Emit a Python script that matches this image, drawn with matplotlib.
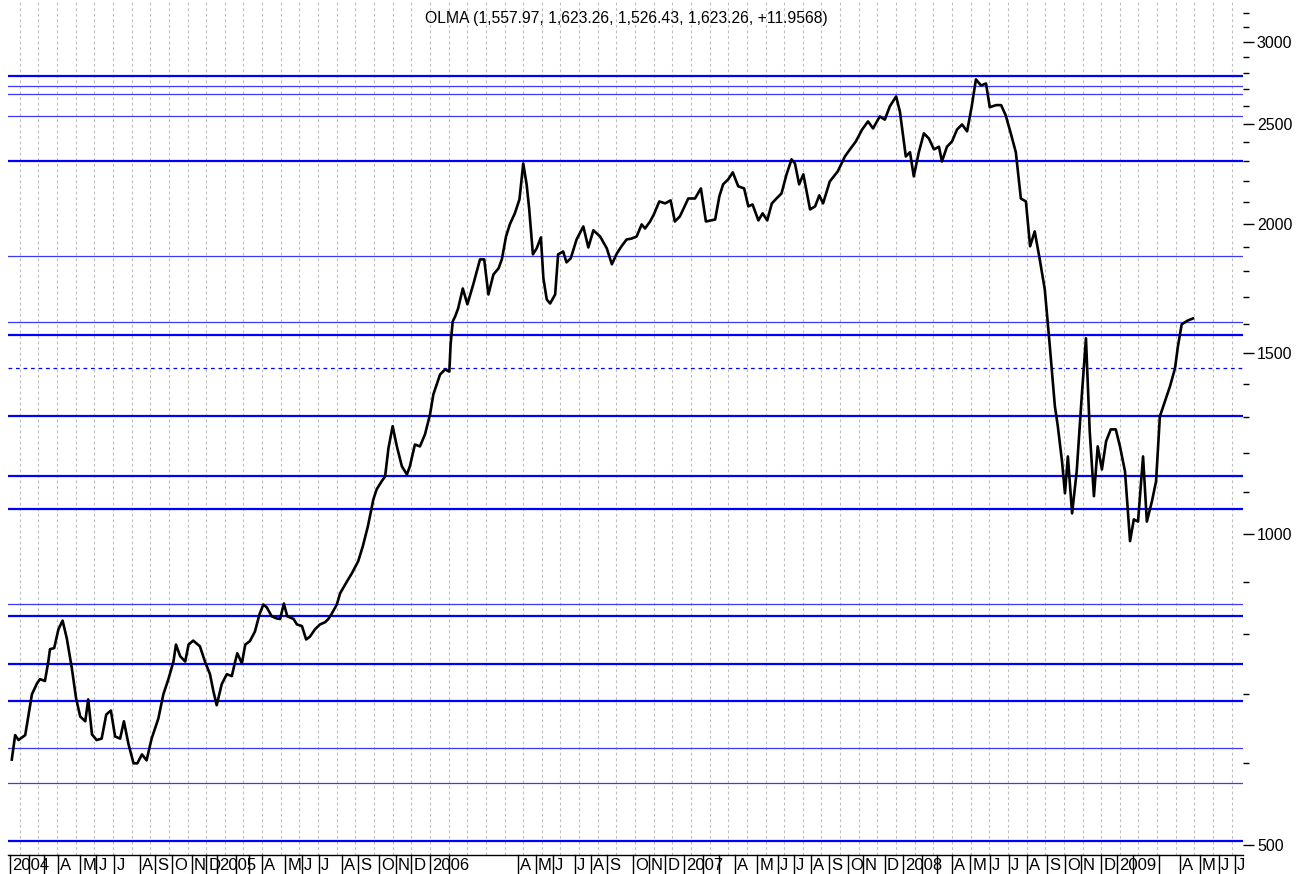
import numpy as np
import matplotlib
matplotlib.use("Agg")
import matplotlib.pyplot as plt
from matplotlib.ticker import FixedLocator, NullFormatter

plt.rcParams['font.family'] = ['Liberation Sans', 'DejaVu Sans']

###############################################################################
# weekly index (bar number) and close values
weeks = [0.4, 1.2, 2.0, 3.6, 4.4, 5.2, 6.4, 7.1, 8.3, 9.1, 9.5, 10.5, 11.5, 12.5,
         13.5, 14.7, 15.7, 16.7, 17.9, 18.6, 19.5, 20.6, 21.8, 22.9, 24.0, 25.0,
         26.2, 27.1, 28.2, 29.4, 30.3, 31.4, 32.5, 33.7, 35.3, 36.5, 37.7, 38.9,
         39.5, 40.5, 41.7, 42.5, 43.6, 45.2, 46.4, 47.6, 48.4, 49.2, 50.4, 51.6,
         52.8, 53.6, 54.1, 55.2, 56.0, 57.1, 58.3, 59.4, 60.3, 61.1, 62.3, 63.5,
         64.3, 65.2, 66.0, 67.5, 68.3, 69.5, 70.5, 71.4, 72.6, 73.8, 75.0, 75.8,
         76.6, 77.8, 78.6, 80.2, 81.4, 82.9, 84.0, 85.2, 86.5, 87.3, 88.5, 89.3,
         90.1, 91.1, 92.1, 93.3, 94.5, 95.2, 96.4, 97.6, 98.8, 100.0, 100.8, 102.4,
         103.6, 104.6, 104.9, 105.4, 106.0, 106.7, 107.8, 108.9, 110.3, 111.9,
         112.9, 113.9, 115.1, 116.3, 117.1, 118.1, 119.0, 120.2, 121.3, 122.2,
         123.0, 123.6, 124.5, 125.4, 126.4, 127.0, 127.8, 128.6, 129.8, 130.5,
         131.7, 132.5, 133.5, 134.9, 136.5, 137.7, 138.9, 140.5, 142.1, 143.3,
         144.5, 145.6, 146.8, 148.0, 149.2, 150.4, 151.2, 152.4, 153.3, 154.6,
         156.0, 157.3, 158.3, 159.5, 161.5, 163.1, 164.5, 165.7, 167.9, 168.9,
         169.8, 171.0, 172.1, 173.4, 174.8, 175.8, 176.8, 178.2, 179.2, 180.3,
         181.4, 182.5, 183.7, 184.9, 186.1, 186.9, 187.9, 188.9, 190.5, 191.7,
         192.7, 193.6, 195.2, 197.1, 198.8, 200.0, 201.4, 202.9, 204.3, 205.5,
         207.1, 208.3, 209.5, 211.0, 211.9, 213.3, 214.3, 215.2, 216.4, 217.6,
         218.8, 220.0, 221.2, 221.9, 223.1, 224.3, 225.5, 226.7, 227.9, 229.0,
         230.0, 231.2, 232.4, 233.3, 234.8, 236.0, 237.1, 238.3, 239.5, 240.7,
         241.9, 242.9, 244.0, 245.2, 246.4, 247.6, 248.8, 249.5, 250.5, 251.2,
         251.9, 252.9, 254.0, 255.2, 256.2, 257.1, 258.1, 259.0, 260.0, 261.0,
         262.1, 263.3, 264.3, 265.5, 266.7, 267.6, 268.6, 269.8, 270.7, 271.9,
         272.9, 273.8, 275.0, 276.2, 277.4, 278.1, 279.0, 280.5, 281.7]
close = [605, 639, 632, 639, 669, 700, 717, 724, 721, 753, 774, 776, 809, 825,
         793, 742, 694, 666, 659, 692, 640, 632, 634, 669, 675, 637,
         634, 659, 626, 600, 600, 612, 604, 634, 663, 700, 724, 753,
         782, 762, 753, 782, 789, 779, 753, 732, 705, 683, 716, 732,
         729, 753, 767, 750, 782, 788, 805, 837, 855, 850, 833, 829,
         828, 857, 833, 828, 818, 815, 791, 796, 809, 818, 822, 828,
         838, 855, 877, 900, 917, 942, 974, 1018, 1081, 1106, 1126, 1138,
         1212, 1273, 1217, 1164, 1143, 1164, 1222, 1217, 1250, 1307, 1367, 1429,
         1445, 1438, 1528, 1608, 1627, 1656, 1731, 1671, 1747, 1847,
         1847, 1708, 1786, 1810, 1847, 1944, 1997, 2047, 2112, 2288,
         2184, 2070, 1868, 1893, 1940, 1770, 1689, 1674, 1708, 1868,
         1880, 1835, 1851, 1931, 1988, 1897, 1971, 1944, 1893, 1827,
         1872, 1902, 1931, 1935, 1944, 1997, 1979, 2010, 2042, 2102,
         2093, 2107, 2010, 2033, 2116, 2116, 2164, 2010, 2019, 2126,
         2184, 2208, 2243, 2174, 2164, 2079, 2088, 2015, 2047, 2015,
         2093, 2116, 2140, 2233, 2309, 2288, 2184, 2233, 2065, 2079,
         2131, 2093, 2198, 2248, 2324, 2361, 2403, 2468, 2513, 2474,
         2541, 2523, 2599, 2657, 2568, 2324, 2346, 2223, 2346, 2447,
         2419, 2361, 2375, 2298, 2375, 2403, 2468, 2496, 2458, 2599,
         2760, 2723, 2735, 2594, 2606, 2606, 2547, 2447, 2346, 2116,
         2102, 1902, 1966, 1847, 1727, 1521, 1331, 1273, 1177, 1096,
         1190, 1048, 1151, 1361, 1549, 1258, 1089, 1217, 1156, 1231,
         1264, 1264, 1217, 1151, 985, 1034, 1029, 1190, 1029, 1076,
         1126, 1301, 1345, 1391, 1448, 1521, 1598, 1612, 1619]

# support / resistance levels
thick_levels = [2781, 2300, 1559, 1301, 1138, 1058, 833, 749, 690, 505]
thin_levels = [2718, 2670, 2542, 1861, 1605, 856, 621, 574]
dashed_levels = [1448]

# month separators on the time axis (bar number) and their labels
month_pos = [0, 4.6, 8.0, 11.4, 16.7, 20.5, 24.8, 31.0, 34.5, 38.6, 43.3, 46.7,
             49.3, 53.9, 57.0, 60.0, 65.5, 69.5, 73.6, 79.0, 82.9, 87.9, 91.9, 95.5,
             100.0, 104.6, 121.0, 125.2, 129.3, 134.5, 138.3, 142.1, 148.3, 152.1, 156.0,
             160.5, 165.1, 168.9, 172.6, 177.9, 182.9, 186.7, 190.7, 195.0, 199.5, 203.1, 208.3,
             212.6, 217.2, 220.8, 224.3, 228.6, 233.3, 237.9, 242.1, 246.9, 251.2, 255.0, 259.8,
             263.6, 267.5, 273.5, 278.6, 283.3, 287.9, 291.7]
month_lab = ['2004', '', '', 'A', 'M', 'J', 'J', 'A', 'S', 'O', 'N', 'D',
             '2005', '', '', 'A', 'M', 'J', 'J', 'A', 'S', 'O', 'N', 'D',
             '2006', '', 'A', 'M', 'J', 'J', 'A', 'S', 'O', 'N', 'D',
             '2007', '', '', 'A', 'M', 'J', 'J', 'A', 'S', 'O', 'N', 'D',
             '2008', '', '', 'A', 'M', 'J', 'J', 'A', 'S', 'O', 'N', 'D',
             '2009', '', '', 'A', 'M', 'J', 'J']

title = "OLMA (1,557.97, 1,623.26, 1,526.43, 1,623.26, +11.9568)"
###############################################################################

W, H = 1303, 874
fig = plt.figure(figsize=(W / 100, H / 100), dpi=100)
ax = fig.add_axes([8 / W, 19 / H, 1235 / W, 855 / H])
ax.set_yscale('log')
ax.set_xlim(-0.5, 293.6)
ax.set_ylim(489, 3295)

# vertical dotted grid, evenly spaced
for p in np.arange(2.3, 293, 4.44):
    ax.axvline(p, color='#bdbdbd', lw=0.8, ls=(0, (2.5, 2.5)), zorder=0)

for lv in thick_levels:
    ax.axhline(lv, color='#0000ff', lw=1.6, zorder=1)
for lv in thin_levels:
    ax.axhline(lv, color='#3a3aff', lw=0.9, zorder=1)
for lv in dashed_levels:
    ax.axhline(lv, color='#0000ff', lw=0.9, ls=(0, (3, 3)), zorder=1)

ax.plot(weeks, close, color='black', lw=1.9, solid_joinstyle='round', zorder=3)

# right-hand price axis
for s in ['left', 'right', 'top']:
    ax.spines[s].set_visible(False)
ax.spines['bottom'].set_color('black')
ax.spines['bottom'].set_linewidth(1.0)
ax.yaxis.tick_right()
major = [500, 1000, 1500, 2000, 2500, 3000]
minor = [v for v in range(500, 3300, 100) if v not in major]
ax.yaxis.set_major_locator(FixedLocator(major))
ax.yaxis.set_minor_locator(FixedLocator(minor))
ax.yaxis.set_minor_formatter(NullFormatter())
ax.set_yticklabels([str(v) for v in major])
ax.tick_params(axis='y', which='major', length=8, width=1, pad=2, labelsize=11.5)
ax.tick_params(axis='y', which='minor', length=4, width=1)

# month axis: separators + labels under the plot
ax.set_xticks([])
tr = ax.get_xaxis_transform()
for p, lab in zip(month_pos, month_lab):
    ax.plot([p, p], [0, -0.024], color='black', lw=1, transform=tr, clip_on=False)
    if lab:
        ax.text(p + 0.5, -0.0125, lab, transform=tr, ha='left', va='center',
                fontsize=12, clip_on=False)

fig.text(626.5 / W, 1 - 18 / H, title, ha='center', va='center', fontsize=11.3)

fig.savefig('out.png', dpi=100)
